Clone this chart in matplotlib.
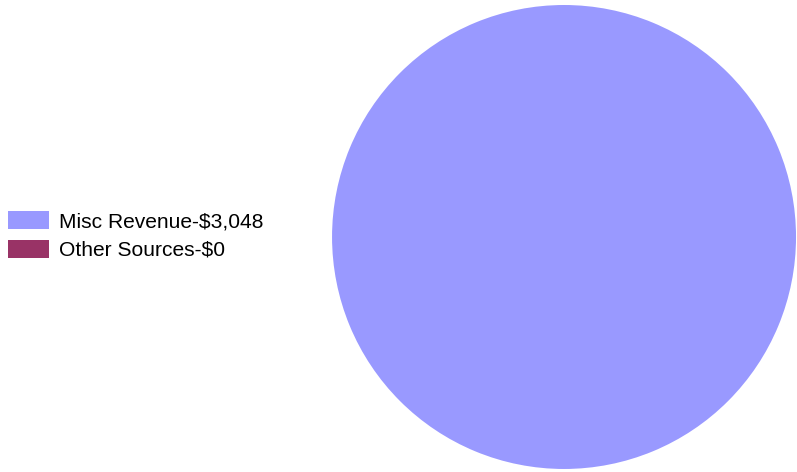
import matplotlib.pyplot as plt

plt.rcParams['font.family'] = ['Liberation Sans', 'DejaVu Sans']

# revenue breakdown
labels = ['Misc Revenue', 'Other Sources']
values = [3048, 0]
colors = ['#9999FF', '#993366']


def legend_text(name, v):
    return f'{name}-${v:,}'


fig = plt.figure(figsize=(7.97, 4.72), dpi=100)

ax = fig.add_axes([0.4166, 0.0064, 0.5822, 0.983])
wedges, _ = ax.pie(values, colors=colors, startangle=90, counterclock=False,
                   radius=1.0, wedgeprops=dict(linewidth=0))
ax.set(xlim=[-1, 1], ylim=[-1, 1], aspect='equal')
ax.axis('off')

fig.legend(
    wedges,
    [legend_text(n, v) for n, v in zip(labels, values)],
    loc='upper left',
    bbox_to_anchor=(8 / 797, 1 - 211 / 472),
    frameon=False,
    fontsize=15.1,
    handlelength=1.95,
    handleheight=0.94,
    handletextpad=0.47,
    labelspacing=0.4,
    borderpad=0,
    borderaxespad=0,
)

fig.savefig('out.png', dpi=100)
